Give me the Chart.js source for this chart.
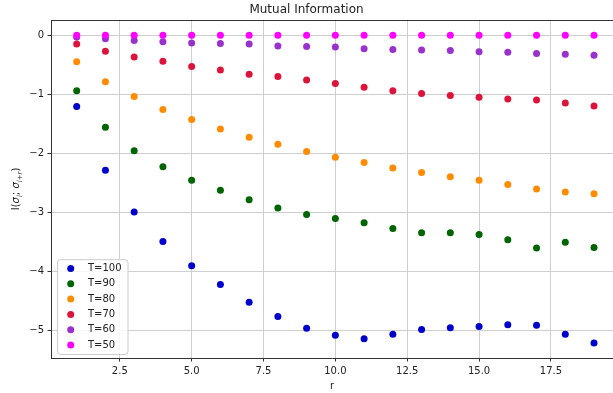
<!DOCTYPE html>
<html>
<head>
<meta charset="utf-8">
<title>Mutual Information</title>
<script src="https://cdn.jsdelivr.net/npm/chart.js@4.4.1/dist/chart.umd.min.js"></script>
<style>
  body { margin: 0; background: #fff; }
  canvas { display: block; }
</style>
</head>
<body>
<canvas id="myChart" width="613" height="393"></canvas>
<script>
const r = [1, 2, 3, 4, 5, 6, 7, 8, 9, 10, 11, 12, 13, 14, 15, 16, 17, 18, 19];
const t100 = [-1.21, -2.29, -3.00, -3.50, -3.91, -4.23, -4.53, -4.77, -4.97, -5.09, -5.15, -5.07, -4.99, -4.96, -4.94, -4.91, -4.92, -5.07, -5.22];
const t90 = [-0.94, -1.56, -1.96, -2.23, -2.46, -2.63, -2.79, -2.93, -3.04, -3.11, -3.18, -3.28, -3.35, -3.35, -3.38, -3.47, -3.61, -3.51, -3.60];
const t80 = [-0.45, -0.79, -1.04, -1.26, -1.43, -1.59, -1.73, -1.85, -1.97, -2.07, -2.16, -2.25, -2.33, -2.40, -2.46, -2.53, -2.61, -2.66, -2.69];
const t70 = [-0.15, -0.27, -0.37, -0.44, -0.53, -0.59, -0.66, -0.70, -0.76, -0.82, -0.88, -0.94, -0.99, -1.02, -1.05, -1.08, -1.10, -1.15, -1.20];
const t60 = [-0.03, -0.06, -0.09, -0.11, -0.13, -0.14, -0.15, -0.18, -0.19, -0.20, -0.23, -0.24, -0.25, -0.26, -0.28, -0.29, -0.31, -0.32, -0.34];
const t50 = [0, 0, 0, 0, 0, 0, 0, 0, 0, 0, 0, 0, 0, 0, 0, 0, 0, 0, 0];

const labels = ['T=100', 'T=90', 'T=80', 'T=70', 'T=60', 'T=50'];
const series = [t100, t90, t80, t70, t60, t50];
const colors = ['#0000cd', '#006400', '#ff8c00', '#dc143c', '#9932cc', '#ff00ff'];

const xTicks = [2.5, 5, 7.5, 10, 12.5, 15, 17.5];
const yTicks = [-5, -4, -3, -2, -1, 0];

const font = 'DejaVu Sans';
const textColor = '#222';
const gridColor = '#cfcfcf';
const spineColor = '#333';

// y label I(sigma_i; sigma_{i+r}) drawn by hand for the subscripts
function drawYLabel(ctx, cx, cy) {
  const parts = [
    ['I(', 10, '', 0], ['\u03c3', 10, 'italic ', 0], ['i', 7, 'italic ', 2.5],
    ['; ', 10, '', 0], ['\u03c3', 10, 'italic ', 0], ['i+r', 7, 'italic ', 2.5],
    [')', 10, '', 0]
  ];
  let total = 0;
  parts.forEach(p => {
    ctx.font = p[2] + p[1] + 'px "' + font + '"';
    total += ctx.measureText(p[0]).width;
  });
  ctx.save();
  ctx.translate(cx, cy);
  ctx.rotate(-Math.PI / 2);
  ctx.fillStyle = textColor;
  ctx.textBaseline = 'alphabetic';
  ctx.textAlign = 'left';
  let x = -total / 2;
  parts.forEach(p => {
    ctx.font = p[2] + p[1] + 'px "' + font + '"';
    ctx.fillText(p[0], x, 3.5 + p[3]);
    x += ctx.measureText(p[0]).width;
  });
  ctx.restore();
}

// top spine, y label, legend inside the axes (lower left)
const extras = {
  id: 'extras',
  afterDraw(chart) {
    const ctx = chart.ctx;
    const area = chart.chartArea;
    ctx.save();
    ctx.strokeStyle = spineColor;
    ctx.lineWidth = 1;
    ctx.beginPath();
    ctx.moveTo(area.left, area.top + 0.5);
    ctx.lineTo(area.right, area.top + 0.5);
    ctx.stroke();

    drawYLabel(ctx, 15.5, (area.top + area.bottom) / 2);

    const rowH = 15.3;
    const boxW = 70.5;
    const boxH = 9.3 + (labels.length - 1) * rowH + 9;
    const bx = area.left + 6;
    const by = area.bottom - 4 - boxH;
    ctx.fillStyle = 'rgba(255,255,255,0.8)';
    ctx.strokeStyle = '#cccccc';
    ctx.beginPath();
    ctx.roundRect(bx + 0.5, by + 0.5, boxW, boxH, 3);
    ctx.fill();
    ctx.stroke();

    ctx.font = '10px "' + font + '"';
    ctx.textBaseline = 'middle';
    ctx.textAlign = 'left';
    labels.forEach((lab, i) => {
      const cy = by + 9.3 + i * rowH;
      ctx.fillStyle = colors[i];
      ctx.beginPath();
      ctx.arc(bx + 13.7, cy, 3.5, 0, Math.PI * 2);
      ctx.fill();
      ctx.fillStyle = textColor;
      ctx.fillText(lab, bx + 31, cy);
    });
    ctx.restore();
  }
};

const datasets = series.map((vals, i) => ({
  label: labels[i],
  data: r.map((x, j) => ({ x: x, y: vals[j] })),
  backgroundColor: colors[i],
  borderColor: colors[i],
  borderWidth: 0,
  pointRadius: 3.5,
  pointHoverRadius: 3.5,
  order: series.length - 1 - i
}));

new Chart(document.getElementById('myChart').getContext('2d'), {
  type: 'scatter',
  data: { datasets: datasets },
  plugins: [extras],
  options: {
    responsive: false,
    animation: false,
    devicePixelRatio: 1,
    layout: { autoPadding: false, padding: 0 },
    plugins: {
      legend: { display: false },
      tooltip: { enabled: false },
      title: {
        display: true,
        text: 'Mutual Information',
        color: textColor,
        font: { family: font, size: 12, weight: 'normal' },
        padding: { top: 3, bottom: 2.6 }
      }
    },
    scales: {
      x: {
        type: 'linear',
        min: 0.106,
        max: 19.66,
        afterBuildTicks: (s) => { s.ticks = xTicks.map(v => ({ value: v })); },
        afterFit: (s) => { s.height = 35; },
        ticks: {
          color: textColor,
          font: { family: font, size: 10 },
          padding: 3.5,
          maxRotation: 0,
          callback: (v) => Number(v).toFixed(1)
        },
        grid: { color: gridColor, tickColor: spineColor, tickLength: 3.5, lineWidth: 1 },
        border: { display: true, color: spineColor, width: 1 },
        title: {
          display: true,
          text: 'r',
          color: textColor,
          font: { family: font, size: 10 },
          padding: { top: 3, bottom: 1 }
        }
      },
      y: {
        type: 'linear',
        min: -5.475,
        max: 0.259,
        afterBuildTicks: (s) => { s.ticks = yTicks.map(v => ({ value: v })); },
        afterFit: (s) => { s.width = 51; },
        ticks: {
          color: textColor,
          font: { family: font, size: 10 },
          padding: 3.5,
          callback: (v) => v < 0 ? '\u2212' + Math.abs(v) : String(v)
        },
        grid: { color: gridColor, tickColor: spineColor, tickLength: 3.5, lineWidth: 1 },
        border: { display: true, color: spineColor, width: 1 }
      }
    }
  }
});
</script>
</body>
</html>
